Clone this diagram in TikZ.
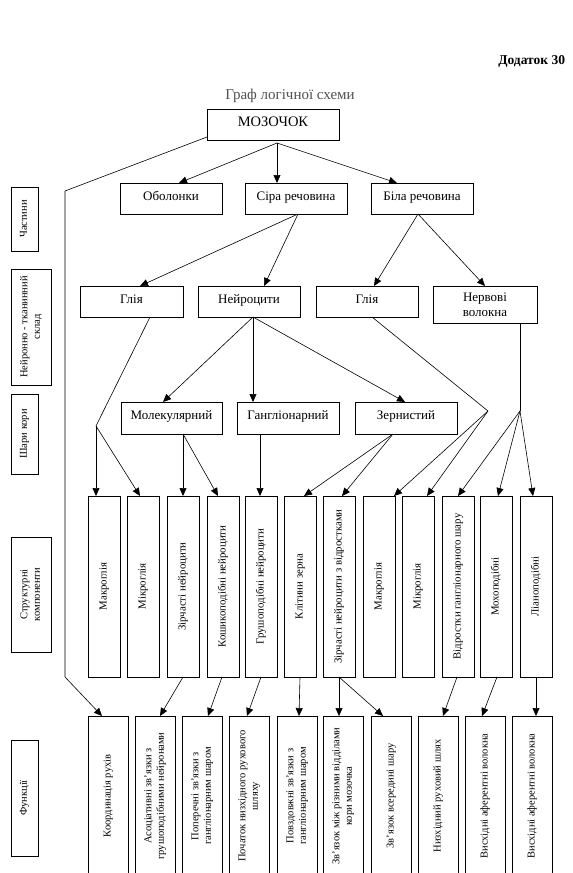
\documentclass[tikz,border=0pt]{standalone}
\usepackage{fontspec}
\setmainfont{Liberation Serif}
\usepackage{graphicx}
\usetikzlibrary{arrows.meta}
\newcommand\vtxt[1]{\rotatebox{90}{\begin{tabular}{@{}c@{}}#1\end{tabular}}}
\definecolor{titlegray}{RGB}{80,80,80}
\begin{document}
\begin{tikzpicture}[x=1pt,y=-1pt,
  every node/.style={inner sep=0pt, outer sep=0pt},
  bx/.style={draw, line width=0.6pt, anchor=north west, align=center},
  lvl/.style={bx, minimum width=102pt, minimum height=31pt, font=\fontsize{13}{15}\selectfont, text height=8pt, text depth=5pt},
  sc/.style={bx, minimum width=32pt, minimum height=181pt, font=\fontsize{10.8}{12.5}\selectfont},
  fn/.style={bx, minimum width=40pt, minimum height=160pt, font=\fontsize{10.5}{12.5}\selectfont},
  side/.style={bx, font=\fontsize{10.5}{12.5}\selectfont},
  ln/.style={line width=0.6pt},
  arr/.style={ln, -{Triangle[length=8pt,width=7pt]}}
]
\useasboundingbox (0,0) rectangle (573,873);
\clip (0,0) rectangle (573,873);

% titles
\node[anchor=east, font=\bfseries\fontsize{13.5}{15}\selectfont] (dod) at (565,61) {Додаток 30};
\node[font=\fontsize{15}{17}\selectfont, text=titlegray] (title) at (290,96) {Граф логічної схеми};
\node[bx, minimum width=132pt, minimum height=31pt, font=\fontsize{14.5}{16}\selectfont, text height=9pt, text depth=6pt] (moz) at (207,109) {МОЗОЧОК};

% side labels
\node[side, minimum width=27pt, minimum height=64pt] (l1) at (11,187) {\vtxt{Частини}};
\node[side, minimum width=40pt, minimum height=116pt] (l2) at (11,269) {\vtxt{Нейронно - тканинний\\склад}};
\node[side, minimum width=27pt, minimum height=80pt] (l3) at (11,394) {\vtxt{Шари кори}};
\node[side, minimum width=40pt, minimum height=115pt] (l4) at (11,537) {\vtxt{Структурні\\компоненти}};
\node[side, minimum width=27pt, minimum height=116pt] (l5) at (11,740) {\vtxt{Функції}};

% level 1
\node[lvl] (obol) at (120,183) {Оболонки};
\node[lvl] (sira) at (245,183) {Сіра речовина};
\node[lvl] (bila) at (371,183) {Біла речовина};
% level 2
\node[lvl, minimum width=103pt] (glia1) at (80,286) {Глія};
\node[lvl] (neur) at (198,286) {Нейроцити};
\node[lvl] (glia2) at (316,286) {Глія};
\node[bx, minimum width=104pt, minimum height=37pt, font=\fontsize{13}{15}\selectfont] (nerv) at (433,286) {Нервові\\волокна};
% level 3
\node[lvl, minimum width=101pt, minimum height=32pt] (mol) at (121,402) {Молекулярний};
\node[lvl, minimum height=32pt] (gang) at (237,402) {Гангліонарний};
\node[lvl, minimum height=32pt] (zern) at (355,402) {Зернистий};

% structure components
\node[sc] (s1) at (88,496) {\vtxt{Макроглія}};
\node[sc] (s2) at (127,496) {\vtxt{Мікроглія}};
\node[sc] (s3) at (167,496) {\vtxt{Зірчасті нейроцити}};
\node[sc] (s4) at (207,496) {\vtxt{Кошикоподібні нейроцити}};
\node[sc] (s5) at (245,496) {\vtxt{Грушоподібні нейроцити}};
\node[sc] (s6) at (284,496) {\vtxt{Клітини зерна}};
\node[sc] (s7) at (323,496) {\vtxt{Зірчасті нейроцити з відростками}};
\node[sc] (s8) at (363,496) {\vtxt{Макроглія}};
\node[sc] (s9) at (402,496) {\vtxt{Мікроглія}};
\node[sc] (s10) at (442,496) {\vtxt{Відростки гангліонарного шару}};
\node[sc] (s11) at (480,496) {\vtxt{Мохоподібні}};
\node[sc] (s12) at (520,496) {\vtxt{Ліаноподібні}};

% functions
\node[fn] (f1) at (88,716) {\vtxt{Координація рухів}};
\node[fn] (f2) at (135,716) {\vtxt{Асоціативні зв’язки з\\грушоподібними нейронами}};
\node[fn] (f3) at (182,716) {\vtxt{Поперечні зв’язки з\\гангліонарним шаром}};
\node[fn] (f4) at (229,716) {\vtxt{Початок низхідного рухового\\шляху}};
\node[fn] (f5) at (277,716) {\vtxt{Повздовжні зв’язки з\\гангліонарним шаром}};
\node[fn] (f6) at (323,716) {\vtxt{Зв’язок між різними відділами\\кори мозочка}};
\node[fn] (f7) at (371,716) {\vtxt{Зв’язок всередині шару}};
\node[fn] (f8) at (418,716) {\vtxt{Низхідний руховий шлях}};
\node[fn] (f9) at (465,716) {\vtxt{Висхідні аферентні волокна}};
\node[fn] (f10) at (512,716) {\vtxt{Висхідні аферентні волокна}};

% junctions
\coordinate (j1) at (65,191);
\coordinate (j2) at (65,677);
\coordinate (jg) at (96,426);
\coordinate (jg2) at (488,411);
\coordinate (jn) at (520,411);
\coordinate (mzs) at ([xshift=4pt,yshift=-3pt]moz.south);

% connectors
\draw[ln] ([yshift=3pt]moz.south west) -- (j1) -- (j2);
\draw[arr] (j2) -- ([xshift=-6pt]f1.north);
\draw[arr] (mzs) -- ([xshift=8pt]obol.north);
\draw[arr] (mzs) -- ([xshift=-19pt]sira.north);
\draw[arr] (mzs) -- ([xshift=-25pt]bila.north);

\draw[arr] ([xshift=2pt]sira.south) -- ([xshift=8.5pt]glia1.north);
\draw[arr] ([xshift=2pt]sira.south) -- ([xshift=15pt]neur.north);
\draw[arr] ([xshift=-4pt]bila.south) -- ([xshift=7pt]glia2.north);
\draw[arr] ([xshift=-4pt]bila.south) -- (nerv.north);

\draw[arr] ([xshift=4pt]neur.south) -- ([xshift=-8.5pt]mol.north);
\draw[arr] ([xshift=4pt]neur.south) -- ([xshift=-35pt]gang.north);
\draw[arr] ([xshift=4pt]neur.south) -- ([xshift=-1pt]zern.north);

\draw[ln] ([xshift=18.5pt]glia1.south) -- (jg);
\draw[ln] ([xshift=5pt]glia2.south) -- (jg2);
\draw[ln] ([xshift=35pt]nerv.south) -- (jn);

\draw[arr] (jg) -- ([xshift=-8pt]s1.north);
\draw[arr] (jg) -- ([xshift=-3pt]s2.north);
\draw[arr] ([xshift=11.5pt]mol.south) -- (s3.north);
\draw[arr] ([xshift=11.5pt]mol.south) -- ([xshift=-5pt]s4.north);
\draw[arr] ([xshift=-28pt]gang.south) -- ([xshift=-1pt]s5.north);
\draw[arr] ([xshift=-13pt]zern.south) -- ([xshift=4pt]s6.north);
\draw[arr] ([xshift=-13pt]zern.south) -- ([xshift=3pt]s7.north);
\draw[arr] (jg2) -- ([xshift=-1pt]s8.north east);
\draw[arr] (jg2) -- ([xshift=9pt]s9.north);
\draw[arr] (jn) -- (s10.north);
\draw[arr] (jn) -- ([xshift=2pt]s11.north);
\draw[arr] (jn) -- ([xshift=-3pt]s12.north);

\draw[arr] (s3.south) -- ([xshift=5pt]f2.north);
\draw[arr] ([xshift=-1pt]s4.south) -- ([xshift=6pt]f3.north);
\draw[arr] (s5.south) -- ([xshift=-2pt]f4.north);
\draw[arr] (s6.south) -- ([xshift=2pt]f5.north);
\draw[arr] (s7.south) -- ([xshift=-4pt]f6.north);
\draw[arr] (s7.south) -- ([xshift=-8pt]f7.north);
\draw[arr] ([xshift=-1pt]s10.south) -- ([xshift=5pt]f8.north);
\draw[arr] ([xshift=1pt]s11.south) -- ([xshift=-3pt]f9.north);
\draw[arr] (s12.south) -- ([xshift=4pt]f10.north);
\end{tikzpicture}
\end{document}
